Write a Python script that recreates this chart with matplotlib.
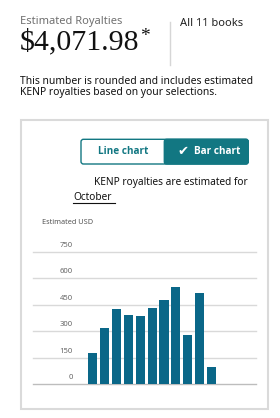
import numpy as np
import matplotlib.pyplot as plt
from matplotlib.patches import FancyBboxPatch, Rectangle

##############################################################################
# Data
##############################################################################

total_royalties = "$4,071.98"
book_scope = "All 11 books"
usd_ticks = [0, 150, 300, 450, 600, 750]
usd_values = [177, 316, 423, 389, 385, 433, 476, 552, 278, 518, 95]

TEAL = "#127782"
BAR = "#0a6788"
SANS = ["Noto Sans", "DejaVu Sans"]
BOLD = ["Open Sans", "DejaVu Sans"]

##############################################################################
# Figure with a pixel overlay (0..280, 0..418 from top)
##############################################################################

fig = plt.figure(figsize=(2.8, 4.18), dpi=100)
fig.patch.set_facecolor("white")
ov = fig.add_axes([0, 0, 1, 1])
ov.set_xlim(0, 280)
ov.set_ylim(418, 0)
ov.axis("off")

# header
ov.text(20.5, 21.5, "Estimated Royalties", family=SANS, fontsize=8,
        color="#707070", va="center", ha="left")
t = ov.text(20, 49.5, total_royalties, family="Liberation Serif", fontsize=21.5,
            color="#111111", va="baseline", ha="left")
fig.canvas.draw()
bb = t.get_window_extent().transformed(ov.transData.inverted())
ov.text(bb.x1 + 0.5, 41, "*", family="Liberation Serif", fontsize=14,
        color="#111111", va="baseline", ha="left")
ov.plot([170, 170], [22, 65], color="#d6d6d6", lw=1)
ov.text(180, 23.5, book_scope, family=SANS, fontsize=8,
        color="#222222", va="center", ha="left")
ov.text(20.5, 81, "This number is rounded and includes estimated",
        family=SANS, fontsize=7.45, color="#111111", va="center")
ov.text(20.5, 92, "KENP royalties based on your selections.",
        family=SANS, fontsize=7.45, color="#111111", va="center")

# card
ov.add_patch(Rectangle((20.7, 120), 247.3, 289.3, fill=False,
                       edgecolor="#dadada", lw=1.5))

# toggle buttons
ov.add_patch(FancyBboxPatch((81, 139.3), 167.3, 24.7,
                            boxstyle="round,pad=0,rounding_size=2.5",
                            facecolor="white", edgecolor=TEAL, lw=1))
ov.add_patch(FancyBboxPatch((164.3, 139.3), 84, 24.7,
                            boxstyle="round,pad=0,rounding_size=2.5",
                            facecolor=TEAL, edgecolor=TEAL, lw=1))
ov.add_patch(Rectangle((164.3, 139.3), 5, 24.7, facecolor=TEAL,
                       edgecolor="none"))
ov.text(122.7, 151.7, "Line chart", family=BOLD, fontsize=7.2,
        fontweight="bold", color=TEAL, ha="center", va="center")
ov.text(183, 151.7, "\u2714", family=["DejaVu Sans"], fontsize=9.5,
        color="white", ha="center", va="center")
ov.text(216.7, 151.7, "Bar chart", family=BOLD, fontsize=7.2,
        fontweight="bold", color="white", ha="center", va="center")

# note
ov.text(248, 182.5, "KENP royalties are estimated for", family=SANS,
        fontsize=7.3, color="#111111", ha="right", va="center")
ov.text(73.3, 197.5, "October", family=SANS, fontsize=7.3,
        color="#111111", ha="left", va="center")
ov.plot([73.3, 115], [202.8, 202.8], color="#111111", lw=0.8)
ov.text(41.7, 222, "Estimated USD", family=SANS, fontsize=5.3,
        color="#555555", ha="left", va="center")

##############################################################################
# Bar chart
##############################################################################

ax = fig.add_axes([32.7 / 280, 1 - 384 / 418, 223.3 / 280, 132.3 / 418])
ax.set_facecolor("none")
x = np.arange(len(usd_values))
ax.set_xlim(-5.06, 13.75)
ax.set_ylim(0, 750)
for v in usd_ticks:
    ax.axhline(v, color="#bdbdbd" if v == 0 else "#d9d9d9", lw=1,
               clip_on=False, zorder=1)
    ax.annotate(str(v), xy=(0.179, v), xycoords=("axes fraction", "data"),
                xytext=(0, 4.5), textcoords="offset points",
                ha="right", va="center", family=SANS, fontsize=5.5,
                color="#666666")
ax.bar(x, usd_values, width=0.76, color=BAR, zorder=2)
ax.axis("off")

fig.savefig("out.png", dpi=100, facecolor="white")
